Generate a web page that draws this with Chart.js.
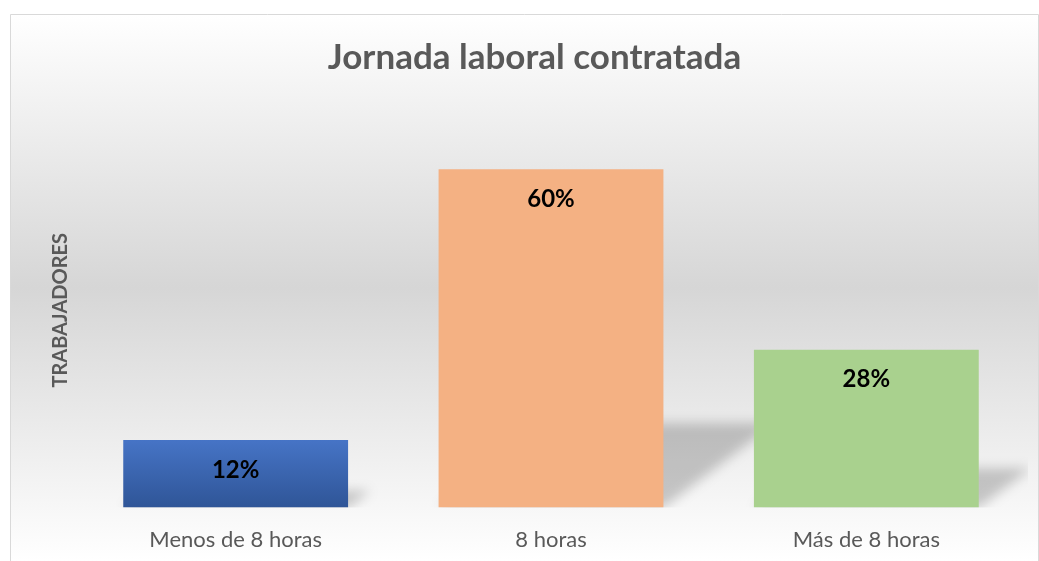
<!DOCTYPE html>
<html>
<head>
<meta charset="utf-8">
<script src="https://cdn.jsdelivr.net/npm/chart.js@4/dist/chart.umd.min.js"></script>
<style>
  html, body { margin: 0; padding: 0; background: #ffffff; }
  #wrap { width: 1039px; height: 561px; position: relative; }
</style>
</head>
<body>
<div id="wrap"><canvas id="c" width="1039" height="561"></canvas></div>
<script>
const categories = ["Menos de 8 horas", "8 horas", "Más de 8 horas"];
const values = [12, 60, 28];
const valueLabels = ["12%", "60%", "28%"];
const chartTitle = "Jornada laboral contratada";
const yAxisTitle = "TRABAJADORES";
const barColors = ["#4472C4", "#F4B183", "#A9D18E"];

const FONT = "Lato, 'Open Sans', sans-serif";

const framePlugin = {
  id: 'frame',
  beforeDraw(chart) {
    const ctx = chart.ctx;
    ctx.save();
    const g = ctx.createLinearGradient(0, 14, 0, 561);
    g.addColorStop(0, '#ffffff');
    g.addColorStop(0.5, '#d6d6d6');
    g.addColorStop(1, '#ffffff');
    ctx.fillStyle = g;
    ctx.fillRect(10, 14, 1029, 547);
    ctx.strokeStyle = '#d9d9d9';
    ctx.lineWidth = 1;
    ctx.beginPath();
    ctx.moveTo(10.5, 561);
    ctx.lineTo(10.5, 14.5);
    ctx.lineTo(1038.5, 14.5);
    ctx.lineTo(1038.5, 561);
    ctx.stroke();
    ctx.restore();
  }
};

const shadowPlugin = {
  id: 'barShadow',
  beforeDatasetsDraw(chart) {
    const ctx = chart.ctx;
    const area = chart.chartArea;
    const meta = chart.getDatasetMeta(0);
    ctx.save();
    ctx.beginPath();
    ctx.rect(area.left, area.top, area.right - area.left + 4, area.bottom - area.top);
    ctx.clip();
    ctx.filter = 'blur(6px)';
    ctx.fillStyle = 'rgba(0,0,0,0.2)';
    meta.data.forEach(bar => {
      const h = bar.base - bar.y;
      const half = bar.width / 2;
      const l = bar.x - half, r = bar.x + half;
      const dy = 0.25 * h, dx = 0.33 * h;
      ctx.beginPath();
      ctx.moveTo(l, bar.base);
      ctx.lineTo(r, bar.base);
      ctx.lineTo(r + dx, bar.base - dy);
      ctx.lineTo(l + dx, bar.base - dy);
      ctx.closePath();
      ctx.fill();
    });
    ctx.restore();
  }
};

const labelPlugin = {
  id: 'valueLabels',
  afterDatasetsDraw(chart) {
    const ctx = chart.ctx;
    const meta = chart.getDatasetMeta(0);
    ctx.save();
    ctx.font = "bold 24px " + FONT;
    ctx.fillStyle = '#000000';
    ctx.textAlign = 'center';
    ctx.textBaseline = 'middle';
    meta.data.forEach((bar, i) => {
      ctx.fillText(valueLabels[i], bar.x, bar.y + 30);
    });
    ctx.restore();
  }
};

function barFill(context) {
  const i = context.dataIndex;
  const chart = context.chart;
  if (i !== 0 || !chart.chartArea || !chart.scales.y) return barColors[i];
  const y = chart.scales.y;
  const top = y.getPixelForValue(values[i]);
  const bottom = y.getPixelForValue(0);
  const g = chart.ctx.createLinearGradient(0, top, 0, bottom);
  g.addColorStop(0, '#4674C6');
  g.addColorStop(1, '#2F5597');
  return g;
}

new Chart(document.getElementById('c'), {
  type: 'bar',
  data: {
    labels: categories,
    datasets: [{
      data: values,
      backgroundColor: barFill,
      borderWidth: 0,
      categoryPercentage: 1,
      barPercentage: 0.713
    }]
  },
  plugins: [framePlugin, shadowPlugin, labelPlugin],
  options: {
    responsive: false,
    animation: false,
    layout: { padding: { top: 20, left: 45, right: 15, bottom: -11 } },
    plugins: {
      legend: { display: false },
      tooltip: { enabled: false },
      title: {
        display: true,
        text: chartTitle,
        color: '#595959',
        font: { family: FONT, size: 35, weight: 'bold', lineHeight: 1.2 },
        padding: { top: 17, bottom: 34 }
      }
    },
    scales: {
      x: {
        grid: { display: false, drawTicks: false },
        border: { display: false },
        ticks: { color: '#595959', font: { family: FONT, size: 22, lineHeight: 1.2 }, padding: 19 }
      },
      y: {
        min: 0,
        max: 70,
        grid: { display: false, drawTicks: false },
        border: { display: false },
        ticks: { display: false },
        title: {
          display: true,
          text: yAxisTitle,
          color: '#595959',
          font: { family: FONT, size: 20, weight: 'bold', lineHeight: 1.2 },
          padding: { top: 4, bottom: 5 }
        }
      }
    }
  }
});
</script>
</body>
</html>
